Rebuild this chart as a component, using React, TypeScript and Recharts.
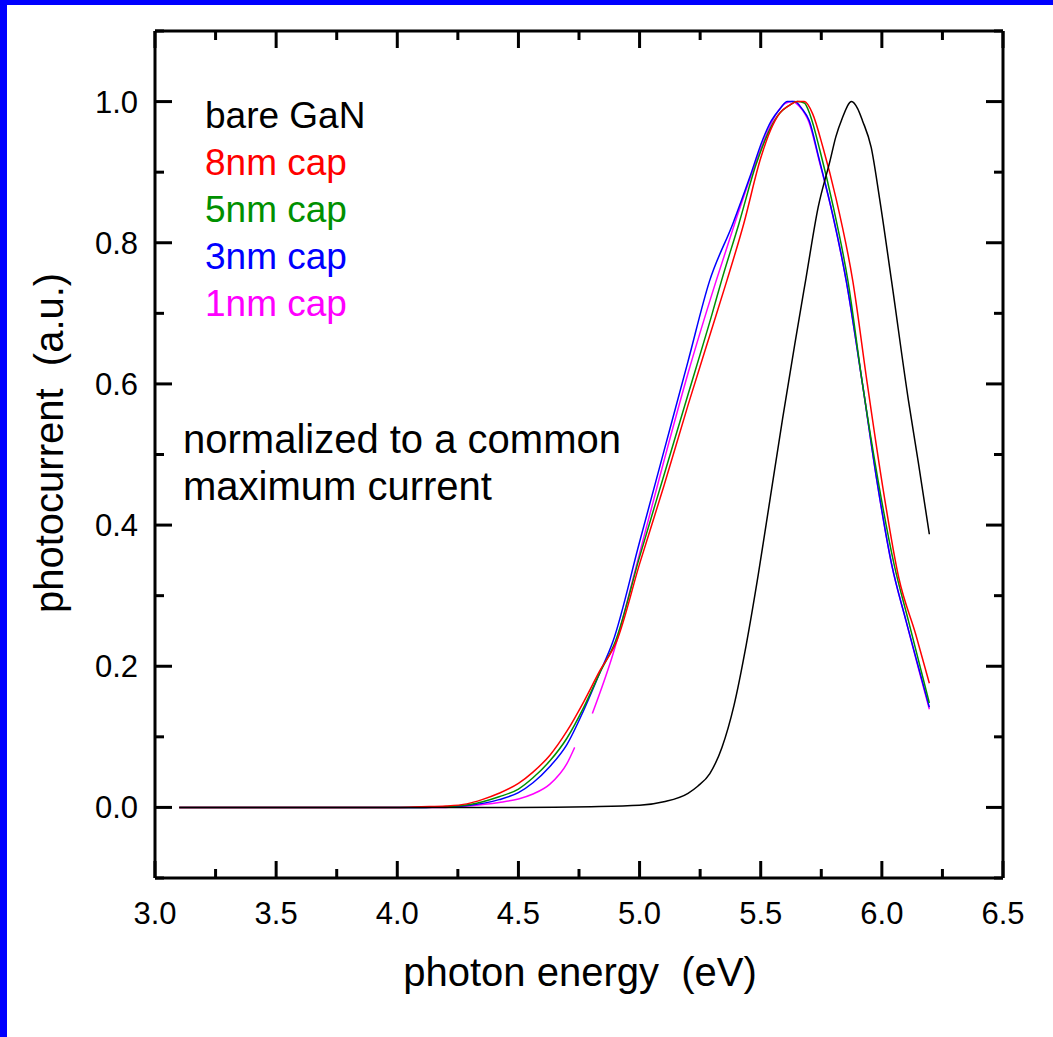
import { LineChart, Line, XAxis, YAxis, Legend } from 'recharts';

// photon energy (eV) / normalized photocurrent
const bareE = [3.1, 3.5, 4.0, 4.5, 4.8, 5.0, 5.1, 5.2, 5.24, 5.29, 5.34, 5.39, 5.44, 5.49, 5.54, 5.59, 5.64, 5.687, 5.737, 5.786, 5.81, 5.835, 5.875, 5.9, 5.92, 5.956, 5.99, 6.04, 6.11, 6.15, 6.196];
const bareI = [0, 0, 0, 0, 0.001, 0.003, 0.008, 0.02, 0.03, 0.048, 0.085, 0.145, 0.23, 0.33, 0.44, 0.55, 0.655, 0.75, 0.85, 0.916, 0.95, 0.975, 1.0, 0.99, 0.973, 0.935, 0.864, 0.746, 0.576, 0.49, 0.387];

const cap8E = [3.1, 3.5, 4.0, 4.1, 4.2, 4.287, 4.35, 4.42, 4.5, 4.56, 4.63, 4.7, 4.77, 4.835, 4.905, 5.0, 5.1, 5.2, 5.3, 5.36, 5.43, 5.5, 5.54, 5.577, 5.62, 5.65, 5.68, 5.714, 5.757, 5.81, 5.88, 5.94, 6.0, 6.07, 6.14, 6.196];
const cap8I = [0, 0, 0, 0.001, 0.002, 0.005, 0.011, 0.02, 0.034, 0.05, 0.074, 0.108, 0.15, 0.193, 0.235, 0.345, 0.455, 0.57, 0.68, 0.746, 0.827, 0.92, 0.959, 0.983, 0.995, 1.0, 1.0, 0.983, 0.935, 0.864, 0.746, 0.6, 0.462, 0.325, 0.245, 0.176];

const cap5E = [3.1, 3.5, 4.0, 4.1, 4.2, 4.3, 4.42, 4.5, 4.56, 4.63, 4.7, 4.77, 4.835, 4.9, 5.0, 5.1, 5.2, 5.3, 5.338, 5.41, 5.48, 5.53, 5.57, 5.62, 5.65, 5.68, 5.705, 5.745, 5.8, 5.86, 5.92, 5.985, 6.05, 6.11, 6.196];
const cap5I = [0, 0, 0, 0, 0.001, 0.004, 0.015, 0.026, 0.042, 0.066, 0.098, 0.142, 0.19, 0.235, 0.355, 0.47, 0.585, 0.7, 0.746, 0.827, 0.91, 0.955, 0.98, 0.995, 1.0, 0.998, 0.98, 0.93, 0.85, 0.746, 0.6, 0.462, 0.345, 0.264, 0.148];

const cap3E = [3.1, 3.5, 4.0, 4.1, 4.2, 4.3, 4.42, 4.5, 4.56, 4.63, 4.7, 4.77, 4.835, 4.89, 5.0, 5.1, 5.2, 5.289, 5.385, 5.454, 5.507, 5.544, 5.58, 5.61, 5.64, 5.67, 5.7, 5.74, 5.797, 5.853, 5.92, 5.98, 6.04, 6.1, 6.15, 6.196];
const cap3I = [0, 0, 0, 0, 0.001, 0.003, 0.011, 0.021, 0.035, 0.058, 0.089, 0.138, 0.19, 0.235, 0.376, 0.504, 0.632, 0.746, 0.827, 0.892, 0.945, 0.973, 0.99, 1.0, 1.0, 0.99, 0.973, 0.92, 0.84, 0.746, 0.6, 0.462, 0.345, 0.264, 0.2, 0.142];

// 1nm trace has a break between 4.73 and 4.81 eV
const cap1E = [3.1, 3.5, 4.0, 4.1, 4.2, 4.29, 4.42, 4.5, 4.56, 4.63, 4.7, 4.732, 4.77, 4.805, 4.89, 5.0, 5.1, 5.2, 5.316, 5.4, 5.47, 5.52, 5.56, 5.6, 5.63, 5.66, 5.7, 5.74, 5.8, 5.853, 5.92, 5.98, 6.04, 6.1, 6.15, 6.196];
const cap1I = [0, 0, 0, 0, 0, 0.002, 0.007, 0.012, 0.019, 0.033, 0.062, 0.085, null, 0.133, 0.217, 0.36, 0.49, 0.615, 0.746, 0.835, 0.905, 0.95, 0.98, 0.997, 1.0, 0.993, 0.97, 0.918, 0.835, 0.746, 0.6, 0.462, 0.345, 0.264, 0.198, 0.139];

const xTicks = [3.0, 3.25, 3.5, 3.75, 4.0, 4.25, 4.5, 4.75, 5.0, 5.25, 5.5, 5.75, 6.0, 6.25, 6.5];
const yTicks = [-0.1, 0.0, 0.1, 0.2, 0.3, 0.4, 0.5, 0.6, 0.7, 0.8, 0.9, 1.0, 1.1];

const seriesNames = ['bare GaN', '8nm cap', '5nm cap', '3nm cap', '1nm cap'];
const seriesColors = ['#000000', '#ff0000', '#009000', '#0000ff', '#ff00ff'];

const note = ['normalized to a common', 'maximum current'];

const toPoints = (es: number[], vs: (number | null)[]) => es.map((e, k) => ({ e, i: vs[k] }));

const FONT = '"Liberation Sans", Arial, sans-serif';
const MAJOR = 17;
const MINOR = 9;

const onStep = (v: number, step: number) => Math.abs(v / step - Math.round(v / step)) < 1e-6;

function BottomTick({ x, y, payload }: any) {
  const major = onStep(payload.value, 0.5);
  return (
    <g>
      <line x1={x} x2={x} y1={y} y2={y - (major ? MAJOR : MINOR)} stroke="#000" strokeWidth={3} />
      {major && (
        <text x={x} y={y + 46} textAnchor="middle" fontSize={31} fontFamily={FONT} fill="#000">
          {payload.value.toFixed(1)}
        </text>
      )}
    </g>
  );
}

function TopTick({ x, y, payload }: any) {
  const major = onStep(payload.value, 0.5);
  return <line x1={x} x2={x} y1={y} y2={y + (major ? MAJOR : MINOR)} stroke="#000" strokeWidth={3} />;
}

function LeftTick({ x, y, payload }: any) {
  const major = onStep(payload.value, 0.2);
  return (
    <g>
      <line x1={x} x2={x + (major ? MAJOR : MINOR)} y1={y} y2={y} stroke="#000" strokeWidth={3} />
      {major && (
        <text x={x - 17} y={y + 11} textAnchor="end" fontSize={31} fontFamily={FONT} fill="#000">
          {payload.value.toFixed(1)}
        </text>
      )}
    </g>
  );
}

function RightTick({ x, y, payload }: any) {
  const major = onStep(payload.value, 0.2);
  return <line x1={x} x2={x - (major ? MAJOR : MINOR)} y1={y} y2={y} stroke="#000" strokeWidth={3} />;
}

const XTitle = () => (
  <text x={580} y={986} textAnchor="middle" fontSize={40} fontFamily={FONT} fill="#000" style={{ whiteSpace: 'pre' }}>
    photon energy  (eV)
  </text>
);

const YTitle = () => (
  <text transform="translate(63, 613) rotate(-90)" textAnchor="start" fontSize={40} fontFamily={FONT} fill="#000" style={{ whiteSpace: 'pre' }}>
    photocurrent  (a.u.)
  </text>
);

const SeriesNames = () => (
  <div style={{ fontFamily: FONT, fontSize: 37, lineHeight: '47px' }}>
    {seriesNames.map((n, k) => (
      <div key={n} style={{ color: seriesColors[k], whiteSpace: 'nowrap' }}>{n}</div>
    ))}
  </div>
);

export default function App() {
  const axisLine = { stroke: '#000', strokeWidth: 3 };
  const series = [
    { name: seriesNames[4], data: toPoints(cap1E, cap1I), color: seriesColors[4] },
    { name: seriesNames[3], data: toPoints(cap3E, cap3I), color: seriesColors[3] },
    { name: seriesNames[2], data: toPoints(cap5E, cap5I), color: seriesColors[2] },
    { name: seriesNames[1], data: toPoints(cap8E, cap8I), color: seriesColors[1] },
    { name: seriesNames[0], data: toPoints(bareE, bareI), color: seriesColors[0] },
  ];

  return (
    <div style={{ position: 'relative', width: 1053, height: 1037, background: '#fff', overflow: 'hidden' }}>
      <style>{'body{margin:0}'}</style>
      <div style={{ position: 'absolute', left: 0, top: 0, width: 1053, height: 5, background: '#0000ff' }} />
      <div style={{ position: 'absolute', left: 0, top: 0, width: 7, height: 1037, background: '#0000ff' }} />
      <div style={{ position: 'absolute', left: 0, top: 0 }}>
        <LineChart width={1053} height={1037} margin={{ top: 30, right: 49, bottom: 59, left: 55 }}>
          <XAxis
            xAxisId="bottom"
            dataKey="e"
            type="number"
            domain={[3.0, 6.5]}
            ticks={xTicks}
            interval={0}
            allowDataOverflow
            height={100}
            axisLine={axisLine}
            tickLine={false}
            tickSize={0}
            tickMargin={0}
            tick={<BottomTick />}
            label={<XTitle />}
          />
          <XAxis
            xAxisId="top"
            orientation="top"
            dataKey="e"
            type="number"
            domain={[3.0, 6.5]}
            ticks={xTicks}
            interval={0}
            allowDataOverflow
            height={1}
            axisLine={axisLine}
            tickLine={false}
            tickSize={0}
            tickMargin={0}
            tick={<TopTick />}
          />
          <YAxis
            yAxisId="left"
            type="number"
            domain={[-0.1, 1.1]}
            ticks={yTicks}
            interval={0}
            allowDataOverflow
            width={100}
            axisLine={axisLine}
            tickLine={false}
            tickSize={0}
            tickMargin={0}
            tick={<LeftTick />}
            label={<YTitle />}
          />
          <YAxis
            yAxisId="right"
            orientation="right"
            type="number"
            domain={[-0.1, 1.1]}
            ticks={yTicks}
            interval={0}
            allowDataOverflow
            width={1}
            axisLine={axisLine}
            tickLine={false}
            tickSize={0}
            tickMargin={0}
            tick={<RightTick />}
          />
          <Legend
            layout="vertical"
            align="center"
            verticalAlign="middle"
            content={<SeriesNames />}
            wrapperStyle={{ left: 205, top: 92, width: 'auto', height: 'auto' }}
          />
          {series.map((s) => (
            <Line
              key={s.name}
              xAxisId="bottom"
              yAxisId="left"
              data={s.data}
              dataKey="i"
              name={s.name}
              type="monotone"
              stroke={s.color}
              strokeWidth={1.5}
              dot={false}
              activeDot={false}
              isAnimationActive={false}
            />
          ))}
        </LineChart>
      </div>
      <div style={{ position: 'absolute', left: 183, top: 416, fontFamily: FONT, fontSize: 40, lineHeight: '47px', color: '#000', whiteSpace: 'nowrap' }}>
        {note.map((t) => (
          <div key={t}>{t}</div>
        ))}
      </div>
    </div>
  );
}
